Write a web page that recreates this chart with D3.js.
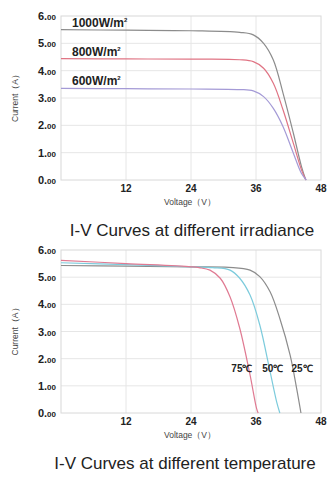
<!DOCTYPE html>
<head>
  <meta charset="utf-8">
  <script src="https://d3js.org/d3.v7.min.js"></script>
  <style>
    body { margin: 0; background: #fff; }
    svg { display: block; font-family: "Liberation Sans", Arial, sans-serif; }
    .grid line { stroke: #e6e6e6; stroke-width: 1; }
    .frame { fill: none; stroke: #d8d8d8; }
    .tick-y { font-weight: bold; fill: #222; }
    .tick-x { font-weight: bold; font-size: 10px; fill: #222; text-anchor: middle; }
    .axis-title { font-size: 8.5px; fill: #444; text-anchor: middle; }
    .title { font-size: 17px; fill: #222; text-anchor: middle; }
    .lbl { font-weight: bold; fill: #222; }
  </style>
</head>

<body>
  <svg width="330" height="481"></svg>

  <script>
    // ---- data ----
    const xTicks = [12, 24, 36, 48];
    const yTicks = [0, 1, 2, 3, 4, 5, 6];

    // irradiance chart
    const irrNames = ['1000W/m', '800W/m', '600W/m'];
    const irrColors = ['#8c8c8c', '#e07484', '#a49ad6'];
    const irrVolts = [
      [0, 12, 24, 33, 35.5, 37.4, 39.2, 41, 42.9, 44.4, 45.2],
      [0, 12, 24, 33, 35.5, 37.4, 39.2, 41, 42.9, 44.4, 45.2],
      [0, 12, 24, 33, 35.5, 37.4, 39.2, 41, 42.9, 44.4, 45.3]
    ];
    const irrAmps = [
      [5.50, 5.48, 5.46, 5.40, 5.31, 5.00, 4.39, 3.17, 1.71, 0.49, 0],
      [4.44, 4.43, 4.42, 4.40, 4.33, 4.09, 3.54, 2.56, 1.34, 0.37, 0],
      [3.35, 3.34, 3.33, 3.31, 3.26, 3.05, 2.62, 1.95, 0.98, 0.24, 0]
    ];

    // temperature chart
    const tempNames = ['25℃', '50℃', '75℃'];
    const tempColors = ['#8c8c8c', '#7ccbdc', '#e07a92'];
    const tempVolts = [
      [0, 12, 24, 31, 34.9, 36.7, 38.6, 40.4, 42.3, 43.5, 44.3],
      [0, 12, 24, 28, 31.2, 33, 34.9, 36.7, 38.6, 39.8, 40.4],
      [0, 12, 24, 25.5, 27.5, 29.4, 31.2, 33, 34.9, 36.1, 36.4]
    ];
    const tempAmps = [
      [5.43, 5.41, 5.38, 5.36, 5.26, 5.02, 4.46, 3.48, 2.13, 0.91, 0],
      [5.53, 5.46, 5.38, 5.35, 5.26, 4.96, 4.34, 3.24, 1.52, 0.42, 0],
      [5.62, 5.50, 5.38, 5.35, 5.26, 4.96, 4.28, 3.12, 1.40, 0.17, 0]
    ];
    const tempLabelV = [44.5, 39.1, 33.4];

    const svg = d3.select('svg');

    const drawChart = (cfg) => {
      const x = d3.scaleLinear().domain([0, 48]).range([61, 321]);
      const y = d3.scaleLinear().domain([0, 6]).range([cfg.bottom, cfg.top]);
      const g = svg.append('g');

      const grid = g.append('g').attr('class', 'grid');
      grid.selectAll('.gy').data(yTicks.slice(1, -1)).enter().append('line')
        .attr('x1', x(0)).attr('x2', x(48))
        .attr('y1', d => y(d)).attr('y2', d => y(d));
      grid.selectAll('.gx').data(xTicks.slice(0, -1)).enter().append('line')
        .attr('y1', y(0)).attr('y2', y(6))
        .attr('x1', d => x(d)).attr('x2', d => x(d));
      g.append('rect').attr('class', 'frame')
        .attr('x', x(0)).attr('y', y(6))
        .attr('width', x(48) - x(0)).attr('height', y(0) - y(6));

      // y tick labels, "6." big and "00" small
      const yt = g.selectAll('.tick-y').data(yTicks).enter().append('text')
        .attr('class', 'tick-y')
        .attr('x', 56).attr('y', d => y(d) + 4)
        .attr('text-anchor', 'end');
      yt.append('tspan').attr('font-size', '11px').text(d => d + '.');
      yt.append('tspan').attr('font-size', '8px').text('00');

      g.selectAll('.tick-x').data(xTicks).enter().append('text')
        .attr('class', 'tick-x')
        .attr('x', d => x(d)).attr('y', y(0) + 12)
        .text(d => d);

      g.append('text').attr('class', 'axis-title')
        .attr('transform', `translate(18,${(y(0) + y(6)) / 2 - 2}) rotate(-90)`)
        .text('Current（A）');
      g.append('text').attr('class', 'axis-title')
        .attr('x', 190).attr('y', y(0) + 25)
        .text('Voltage（V）');

      g.append('text').attr('class', 'title')
        .attr('x', cfg.titleX).attr('y', cfg.titleY)
        .text(cfg.title);

      const line = d3.line()
        .x(d => x(d[0])).y(d => y(d[1]))
        .curve(d3.curveCatmullRom.alpha(0.5));

      cfg.volts.forEach((vs, i) => {
        const pts = vs.map((v, j) => [v, cfg.amps[i][j]]);
        g.append('path')
          .attr('d', line(pts))
          .attr('fill', 'none')
          .attr('stroke', cfg.colors[i])
          .attr('stroke-width', 1.2);
      });
      return { x, y, g };
    };

    const c1 = drawChart({
      top: 16, bottom: 180, volts: irrVolts, amps: irrAmps, colors: irrColors,
      title: 'I-V Curves at different irradiance', titleX: 192, titleY: 236
    });
    irrNames.forEach((n, i) => {
      const t = c1.g.append('text').attr('class', 'lbl')
        .attr('x', 72).attr('y', c1.y(irrAmps[i][0]) - 3);
      t.append('tspan').attr('font-size', '12px').text(n);
      t.append('tspan').attr('font-size', '6px').attr('dy', -5).text('2');
    });

    const c2 = drawChart({
      top: 250, bottom: 413, volts: tempVolts, amps: tempAmps, colors: tempColors,
      title: 'I-V Curves at different temperature', titleX: 185, titleY: 469
    });
    tempNames.forEach((n, i) => {
      c2.g.append('text').attr('class', 'lbl')
        .attr('font-size', '10px').attr('text-anchor', 'middle')
        .attr('x', c2.x(tempLabelV[i])).attr('y', c2.y(1.5))
        .text(n);
    });
  </script>
</body>
